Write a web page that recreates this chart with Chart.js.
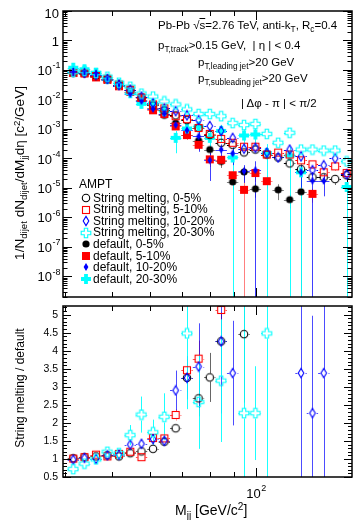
<!DOCTYPE html>
<html><head><meta charset="utf-8"><title>Dijet invariant mass, AMPT</title>
<script src="https://cdn.jsdelivr.net/npm/chart.js@4.4.1/dist/chart.umd.min.js"></script>
<style>
html,body{margin:0;padding:0;background:#fff;}
#wrap{position:relative;width:358px;height:520px;overflow:hidden;font-family:"Liberation Sans",Arial,Helvetica,sans-serif;color:#000;}
#wrap canvas{position:absolute;left:0;}
.t{position:absolute;white-space:nowrap;line-height:12px;font-size:11.5px;}
.sb{font-size:72%;position:relative;top:0.35em;}
.sp{font-size:72%;position:relative;top:-0.45em;}
.rot{position:absolute;white-space:nowrap;transform:translate(-50%,-50%) rotate(-90deg);line-height:1;}
</style></head><body>
<div id="wrap">
<canvas id="cTop" width="358" height="303" style="top:0;width:358px;height:303px"></canvas>
<canvas id="cBot" width="358" height="220" style="top:300px;width:358px;height:220px"></canvas>
<div class="t" style="left:158px;top:19px">Pb-Pb √<span style="text-decoration:overline">s</span>=2.76 TeV, anti-k<span class="sb">T</span>, R<span class="sb">c</span>=0.4</div>
<div class="t" style="left:158px;top:39px">p<span class="sb">T,track</span>&gt;0.15 GeV, &nbsp;| η | &lt; 0.4</div>
<div class="t" style="left:198px;top:56px">p<span class="sb">T,leading jet</span>&gt;20 GeV</div>
<div class="t" style="left:198px;top:72px">p<span class="sb">T,subleading jet</span>&gt;20 GeV</div>
<div class="t" style="left:241px;top:97px">| Δφ - π | &lt; π/2</div>
<div class="rot" style="left:20px;top:173px;font-size:13.5px">1/N<span class="sb">dijet</span> dN<span class="sb">dijet</span>/dM<span class="sb">jj</span>dη [c<span class="sp">2</span>/GeV]</div>
<div class="rot" style="left:20px;top:388px;font-size:12px">String melting / default</div>
<div class="t" style="left:175px;top:503px;font-size:14px;line-height:14px">M<span class="sb">jj</span> [GeV/c<span class="sp">2</span>]</div>
</div>
<script>
// ---------------- data ----------------
const massBins = [41.6,43.9,46.4,49.0,51.8,54.7,57.7,61.0,64.4,68.0,71.8,75.9,80.1,84.6,89.4,94.4,99.7,105.3,111.2,117.5,124.1,131.1,138.4,146.2,154.5];

const seriesLabels = ['String melting, 0-5%','String melting, 5-10%','String melting, 10-20%','String melting, 20-30%',
                      'default, 0-5%','default, 5-10%','default, 10-20%','default, 20-30%'];
const legendTitle = 'AMPT';

// upper panel: 1/N dN/dM dη
const smCent0_5   = [0.079,0.079,0.063,0.050,0.032,0.0215,0.0117,0.0063,0.0043,0.0029,0.0020,0.00108,6.3e-4,3.4e-4,2.9e-4,1.6e-4,2.0e-4,1.36e-4,1.08e-4,6.8e-5,4.3e-5,2.3e-5,2.3e-5,2.0e-5,2.7e-5];
const smCent5_10  = [0.079,0.079,0.063,0.050,0.032,0.0215,0.0117,0.0068,0.0050,0.0027,0.00215,0.00108,6.8e-4,4.6e-4,3.4e-4,2.5e-4,2.5e-4,1.36e-4,1.58e-4,1.36e-4,8.6e-5,6.3e-5,3.4e-5,5.4e-5,3.2e-5];
const smCent10_20 = [0.086,0.079,0.068,0.050,0.032,0.0215,0.0126,0.0074,0.0050,0.0040,0.0029,0.0020,0.00126,8.6e-4,5.0e-4,2.15e-4,2.3e-4,1.58e-4,1.08e-4,2.0e-4,1.17e-4,4.0e-5,5.9e-5,1.0e-4,2.9e-5];
const smCent20_30 = [0.086,0.093,0.079,0.059,0.037,0.027,0.0158,0.0126,0.0086,0.0068,0.0046,0.0032,0.0032,0.0027,0.00158,0.00136,0.00147,6.8e-4,3.4e-4,7.4e-4,2.0e-4,2.0e-4,1.85e-4,1.85e-4,7.9e-5];
const defCent0_5   = [0.079,0.074,0.059,0.046,0.029,0.0185,0.0096,0.0050,0.0029,0.00158,6.3e-4,4.0e-4,2.0e-4,7.9e-5,1.6e-5,3.5e-5,9.3e-6,null,8.6e-6,4.0e-6,7.4e-6,null,null,null,null];
const defCent5_10  = [0.079,0.076,0.056,0.046,0.028,0.018,0.0111,0.0043,0.0032,0.00122,6.2e-4,2.9e-4,9.3e-5,9.0e-5,2.7e-5,8.6e-6,3.2e-5,1.7e-5,null,null,null,6.3e-6,null,null,null];
const defCent10_20 = [0.088,0.077,0.068,0.046,0.028,0.0154,0.0088,0.0048,0.0033,0.00137,9.0e-4,5.6e-4,8.6e-5,2.0e-4,1.48e-4,3.7e-5,4.0e-5,null,null,null,3.4e-5,1.75e-5,1.73e-5,null,null];
const defCent20_30 = [0.119,0.106,0.080,0.049,0.032,0.0163,0.0071,0.0072,0.0040,5.0e-4,0.00104,0.00122,5.0e-4,8.6e-4,1.08e-4,6.0e-4,6.5e-4,1.53e-4,null,1.26e-4,3.4e-5,null,null,null,1.08e-5];

// relative statistical errors, upper panel
const smErr0_5   = [0.03,0.03,0.03,0.03,0.04,0.04,0.05,0.06,0.07,0.08,0.10,0.12,0.15,0.15,0.18,0.20,0.20,0.22,0.25,0.25,0.30,0.35,0.35,0.35,0.60];
const smErr5_10  = [0.03,0.03,0.03,0.03,0.04,0.04,0.05,0.06,0.07,0.08,0.10,0.12,0.15,0.15,0.18,0.20,0.20,0.22,0.25,0.25,0.30,0.30,0.35,0.30,0.35];
const smErr10_20 = [0.03,0.03,0.03,0.03,0.04,0.04,0.05,0.06,0.07,0.08,0.10,0.12,0.15,0.15,0.18,0.20,0.20,0.22,0.25,0.22,0.25,0.35,0.30,0.25,0.35];
const smErr20_30 = [0.03,0.03,0.03,0.03,0.04,0.04,0.05,0.06,0.07,0.08,0.10,0.10,0.12,0.12,0.15,0.15,0.15,0.20,0.25,0.20,0.25,0.25,0.25,0.25,0.30];
const defErr0_5   = [0.04,0.04,0.05,0.05,0.06,0.08,0.10,0.12,0.15,0.20,0.30,0.30,0.35,0.40,0.45,0.50,0.50,null,0.55,0.50,1.0,null,null,null,null];
const defErr5_10  = [0.04,0.04,0.05,0.05,0.06,0.08,0.10,0.12,0.15,0.20,0.30,0.35,0.45,0.40,0.50,1.0,0.50,0.45,null,null,null,0.50,null,null,null];
const defErr10_20 = [0.04,0.04,0.05,0.05,0.06,0.08,0.10,0.12,0.15,0.25,0.35,0.70,0.80,0.50,0.60,0.60,1.0,null,null,null,0.70,1.0,0.70,null,null];
const defErr20_30 = [0.05,0.05,0.06,0.07,0.08,0.12,0.15,0.20,0.25,0.70,0.50,0.50,0.60,0.60,1.0,0.60,0.60,1.0,null,1.0,1.0,null,null,null,1.0];

// lower panel: string melting / default
const ratio0_5   = [1.02,1.05,1.07,1.10,1.07,1.16,1.21,1.28,1.48,1.85,3.25,2.68,3.26,4.26,null,4.46,null,null,null,null,null,null,null,null,null];
const ratio5_10  = [1.01,1.05,1.12,1.07,1.14,1.20,1.05,1.58,1.57,2.22,3.46,3.78,null,5.13,null,null,null,null,null,null,null,null,null,null,null];
const ratio10_20 = [0.98,1.03,1.00,1.10,1.12,1.40,1.42,1.55,1.50,2.90,3.25,3.56,null,4.26,3.38,null,null,null,null,null,3.38,2.27,3.38,null,null];
const ratio20_30 = [0.72,0.87,0.99,1.20,1.16,1.66,2.23,1.74,2.17,null,4.48,2.58,null,3.17,null,2.27,2.27,4.48,null,null,null,null,null,null,null];
const ratioErr0_5   = [0.03,0.03,0.03,0.04,0.04,0.05,0.05,0.06,0.08,0.10,0.40,0.50,0.68,0.80,null,1.9,null,null,null,null,null,null,null,null,null];
const ratioErr5_10  = [0.03,0.03,0.04,0.04,0.05,0.06,0.07,0.08,0.10,0.15,0.30,0.50,null,0.60,null,null,null,null,null,null,null,null,null,null,null];
const ratioErr10_20 = [0.05,0.05,0.05,0.05,0.06,0.08,0.10,0.10,0.12,0.55,0.60,1.20,null,2.0,1.45,null,null,null,null,null,3.5,2.7,3.5,null,null];
const ratioErr20_30 = [0.07,0.07,0.08,0.10,0.12,0.28,0.50,0.35,0.65,null,2.1,1.3,null,1.7,null,3.5,1.3,4.0,null,null,null,null,null,null,null];

// axes
const xRange = [39.6, 158.5];
const yTopRange = [2e-9, 10];
const yBotRange = [0.5, 5.24];
const topTickExponents = [-8,-7,-6,-5,-4,-3,-2,-1,0,1];
const ratioTicks = [0.5,1,1.5,2,2.5,3,3.5,4,4.5,5];
const ratioTickLabels = ['0.5','1','1.5','2','2.5','3','3.5','4','4.5','5'];
const xMinorTicks = [40,50,60,70,80,90,200];
const xMajorTicks = [100];
const xTickLabels = [['10','2']];

// ---------------- drawing ----------------
const FONT = '"Liberation Sans", Arial, Helvetica, sans-serif';
const nB = massBins.length;
function binLo(i){ const a = massBins[i], b = i>0 ? massBins[i-1] : a*a/massBins[1]; return Math.sqrt(a*b); }
function binHi(i){ const a = massBins[i], b = i<nB-1 ? massBins[i+1] : a*a/massBins[nB-2]; return Math.sqrt(a*b); }

function makeMarker(kind, color){
  const S = 12, c = document.createElement('canvas'); c.width = S; c.height = S;
  const g = c.getContext('2d'), m = S/2;
  g.strokeStyle = color; g.fillStyle = color; g.lineWidth = 1.1;
  const plus = (hw, hl) => { g.beginPath();
    g.moveTo(m-hw,m-hl); g.lineTo(m+hw,m-hl); g.lineTo(m+hw,m-hw); g.lineTo(m+hl,m-hw);
    g.lineTo(m+hl,m+hw); g.lineTo(m+hw,m+hw); g.lineTo(m+hw,m+hl); g.lineTo(m-hw,m+hl);
    g.lineTo(m-hw,m+hw); g.lineTo(m-hl,m+hw); g.lineTo(m-hl,m-hw); g.lineTo(m-hw,m-hw); g.closePath(); };
  const dia = (hw, hh) => { g.beginPath(); g.moveTo(m,m-hh); g.lineTo(m+hw,m); g.lineTo(m,m+hh); g.lineTo(m-hw,m); g.closePath(); };
  switch(kind){
    case 'openCircle': g.beginPath(); g.arc(m,m,3.7,0,Math.PI*2); g.stroke(); break;
    case 'openSquare': g.strokeRect(m-3.5,m-3.5,7,7); break;
    case 'openDiamond': dia(2.8,4.6); g.stroke(); break;
    case 'openCross': plus(1.7,4.8); g.stroke(); break;
    case 'filledCircle': g.beginPath(); g.arc(m,m,3.6,0,Math.PI*2); g.fill(); break;
    case 'filledSquare': g.fillRect(m-4,m-4,8,8); break;
    case 'filledDiamond': dia(2.4,3.9); g.fill(); break;
    case 'filledCross': plus(1.9,5.0); g.fill(); break;
  }
  return c;
}
const mk = {
  sm0: makeMarker('openCircle','#000000'), sm5: makeMarker('openSquare','#ff0000'),
  sm10: makeMarker('openDiamond','#0000ff'), sm20: makeMarker('openCross','#00ffff'),
  d0: makeMarker('filledCircle','#000000'), d5: makeMarker('filledSquare','#ff0000'),
  d10: makeMarker('filledDiamond','#0000ff'), d20: makeMarker('filledCross','#00ffff')
};

function mkSet(label, vals, errs, errMode, style, errColor, gap, order, legendIndex){
  const data = [];
  vals.forEach((v,i) => { if (v != null) data.push({x: massBins[i], y: v, i}); });
  return {label, data, errs, errMode, pointStyle: style, pointRadius: 5, pointHoverRadius: 5,
          errColor, gap, order, legendIndex};
}

const errorBars = { id:'errorBars', beforeDatasetsDraw(chart){
  const {ctx, chartArea:a, scales:{x, y}} = chart;
  ctx.save(); ctx.beginPath(); ctx.rect(a.left, a.top, a.right-a.left, a.bottom-a.top); ctx.clip();
  ctx.lineWidth = 1;
  const sets = chart.data.datasets.slice().sort((p,q) => q.order - p.order);
  for (const ds of sets){
    ctx.strokeStyle = ds.errColor;
    for (const p of ds.data){
      const e0 = ds.errs[p.i]; if (e0 == null) continue;
      const e = ds.errMode === 'rel' ? e0*p.y : e0;
      const cx = Math.round(x.getPixelForValue(p.x)) + 0.5, cy = Math.round(y.getPixelForValue(p.y)) + 0.5;
      const hi = y.getPixelForValue(p.y + e);
      const lo = (p.y - e > 0) ? y.getPixelForValue(p.y - e) : a.bottom + 3;
      const xl = x.getPixelForValue(binLo(p.i)), xh = x.getPixelForValue(binHi(p.i));
      const g = ds.gap;
      ctx.beginPath();
      if (hi < cy - g){ ctx.moveTo(cx, hi); ctx.lineTo(cx, cy - g); }
      if (lo > cy + g){ ctx.moveTo(cx, cy + g); ctx.lineTo(cx, lo); }
      ctx.moveTo(xl, cy); ctx.lineTo(cx - g, cy);
      ctx.moveTo(cx + g, cy); ctx.lineTo(xh, cy);
      ctx.stroke();
    }
  }
  ctx.restore();
}};

function drawPow(ctx, base, exp, x, yc, fs, align){
  ctx.textBaseline = 'middle'; ctx.textAlign = 'left';
  ctx.font = fs + 'px ' + FONT; const wb = ctx.measureText(base).width;
  const efs = Math.round(fs*0.7); let we = 0;
  if (exp){ ctx.font = efs + 'px ' + FONT; we = ctx.measureText(exp).width; }
  const x0 = align === 'center' ? x - (wb + we)/2 : x - wb - we;
  ctx.font = fs + 'px ' + FONT; ctx.fillText(base, x0, yc);
  if (exp){ ctx.font = efs + 'px ' + FONT; ctx.fillText(exp, x0 + wb + 0.5, yc - fs*0.42); }
}

function xTickList(){
  return xMinorTicks.map(v => ({v, len:5})).concat(xMajorTicks.map(v => ({v, len:9})));
}

const axesTop = { id:'axesTop', afterDraw(chart){
  const {ctx, chartArea:a, scales:{x, y}} = chart;
  ctx.save(); ctx.strokeStyle = '#000'; ctx.lineWidth = 1; ctx.beginPath();
  for (let k = -9; k <= 1; k++){
    for (let mlt = 1; mlt <= 9; mlt++){
      const v = mlt*Math.pow(10,k); if (v < y.min || v > y.max) continue;
      const len = mlt === 1 ? 9 : 4.5, py = Math.round(y.getPixelForValue(v)) + 0.5;
      ctx.moveTo(a.left, py); ctx.lineTo(a.left + len, py);
      ctx.moveTo(a.right, py); ctx.lineTo(a.right - len, py);
    }
  }
  for (const t of xTickList()){
    if (t.v < x.min || t.v > x.max) continue;
    const px = Math.round(x.getPixelForValue(t.v)) + 0.5;
    ctx.moveTo(px, a.bottom); ctx.lineTo(px, a.bottom - t.len);
    ctx.moveTo(px, a.top); ctx.lineTo(px, a.top + t.len);
  }
  ctx.stroke();
  ctx.lineWidth = 1.5; ctx.strokeRect(a.left, a.top, a.right - a.left, a.bottom - a.top);
  ctx.fillStyle = '#000';
  for (const k of topTickExponents){
    const py = y.getPixelForValue(Math.pow(10,k)) + 1.5;
    if (k === 0) drawPow(ctx, '1', null, 59, py, 13);
    else if (k === 1) drawPow(ctx, '10', null, 59, py + 1.5, 13);
    else drawPow(ctx, '10', String(k), 60, py, 13);
  }
  ctx.restore();
}};

const legendPlugin = { id:'amptLegend', afterDraw(chart){
  const ctx = chart.ctx; ctx.save();
  ctx.font = '12px ' + FONT; ctx.fillStyle = '#000'; ctx.textBaseline = 'middle'; ctx.textAlign = 'left';
  ctx.fillText(legendTitle, 79, 185);
  const sets = chart.data.datasets.slice().sort((p,q) => p.legendIndex - q.legendIndex);
  sets.forEach((ds, k) => {
    const yy = 198 + k*11.55, img = ds.pointStyle;
    ctx.drawImage(img, Math.round(86 - img.width/2), Math.round(yy - img.height/2));
    ctx.fillText(ds.label, 93, yy + 0.5);
  });
  ctx.restore();
}};

const axesBot = { id:'axesBot', afterDraw(chart){
  const {ctx, chartArea:a, scales:{x, y}} = chart;
  ctx.save(); ctx.strokeStyle = '#000'; ctx.lineWidth = 1; ctx.beginPath();
  for (let s = 5; s <= 52; s++){
    const v = s/10; if (v < y.min || v > y.max) continue;
    const len = (s % 5 === 0) ? 8 : 4, py = Math.round(y.getPixelForValue(v)) + 0.5;
    ctx.moveTo(a.left, py); ctx.lineTo(a.left + len, py);
    ctx.moveTo(a.right, py); ctx.lineTo(a.right - len, py);
  }
  for (const t of xTickList()){
    if (t.v < x.min || t.v > x.max) continue;
    const px = Math.round(x.getPixelForValue(t.v)) + 0.5;
    ctx.moveTo(px, a.bottom); ctx.lineTo(px, a.bottom - t.len);
    ctx.moveTo(px, a.top); ctx.lineTo(px, a.top + t.len);
  }
  ctx.stroke();
  ctx.lineWidth = 1.5; ctx.strokeRect(a.left, a.top, a.right - a.left, a.bottom - a.top);
  ctx.fillStyle = '#000';
  ratioTicks.forEach((v, k) => { drawPow(ctx, ratioTickLabels[k], null, 58, y.getPixelForValue(v) + 0.5, 10.5); });
  xMajorTicks.forEach((v, k) => { drawPow(ctx, xTickLabels[k][0], xTickLabels[k][1], x.getPixelForValue(v), a.bottom + 17, 13, 'center'); });
  ctx.restore();
}};

const commonOpts = (range, yType, pad) => ({
  responsive:false, animation:false, events:[],
  layout:{padding:pad},
  scales:{
    x:{type:'logarithmic', min:xRange[0], max:xRange[1], display:false},
    y:{type:yType, min:range[0], max:range[1], display:false}
  },
  plugins:{legend:{display:false}, tooltip:{enabled:false}}
});

new Chart(document.getElementById('cTop'), {
  type:'scatter',
  data:{datasets:[
    mkSet(seriesLabels[0], smCent0_5,   smErr0_5,   'rel', mk.sm0,  '#000000', 4, 4, 0),
    mkSet(seriesLabels[1], smCent5_10,  smErr5_10,  'rel', mk.sm5,  '#ff0000', 4, 3, 1),
    mkSet(seriesLabels[2], smCent10_20, smErr10_20, 'rel', mk.sm10, '#0000ff', 4, 2, 2),
    mkSet(seriesLabels[3], smCent20_30, smErr20_30, 'rel', mk.sm20, '#00ffff', 5, 0, 3),
    mkSet(seriesLabels[4], defCent0_5,   defErr0_5,   'rel', mk.d0,  'rgba(0,0,0,0.5)',    0, 7, 4),
    mkSet(seriesLabels[5], defCent5_10,  defErr5_10,  'rel', mk.d5,  'rgba(255,0,0,0.5)',  0, 6, 5),
    mkSet(seriesLabels[6], defCent10_20, defErr10_20, 'rel', mk.d10, 'rgba(0,0,255,0.75)', 0, 1, 6),
    mkSet(seriesLabels[7], defCent20_30, defErr20_30, 'rel', mk.d20, 'rgba(0,255,255,0.9)', 0, 5, 7)
  ]},
  options: commonOpts(yTopRange, 'logarithmic', {left:63, right:3, top:11, bottom:1}),
  plugins:[errorBars, axesTop, legendPlugin]
});

new Chart(document.getElementById('cBot'), {
  type:'scatter',
  data:{datasets:[
    mkSet(seriesLabels[0], ratio0_5,   ratioErr0_5,   'abs', mk.sm0,  'rgba(0,0,0,0.6)',   4, 3, 0),
    mkSet(seriesLabels[1], ratio5_10,  ratioErr5_10,  'abs', mk.sm5,  'rgba(255,0,0,0.7)', 4, 2, 1),
    mkSet(seriesLabels[2], ratio10_20, ratioErr10_20, 'abs', mk.sm10, 'rgba(0,0,255,0.7)', 4, 1, 2),
    mkSet(seriesLabels[3], ratio20_30, ratioErr20_30, 'abs', mk.sm20, 'rgba(0,255,255,0.9)', 5, 0, 3)
  ]},
  options: commonOpts(yBotRange, 'linear', {left:63, right:3, top:2, bottom:43}),
  plugins:[errorBars, axesBot]
});
</script>
</body></html>
